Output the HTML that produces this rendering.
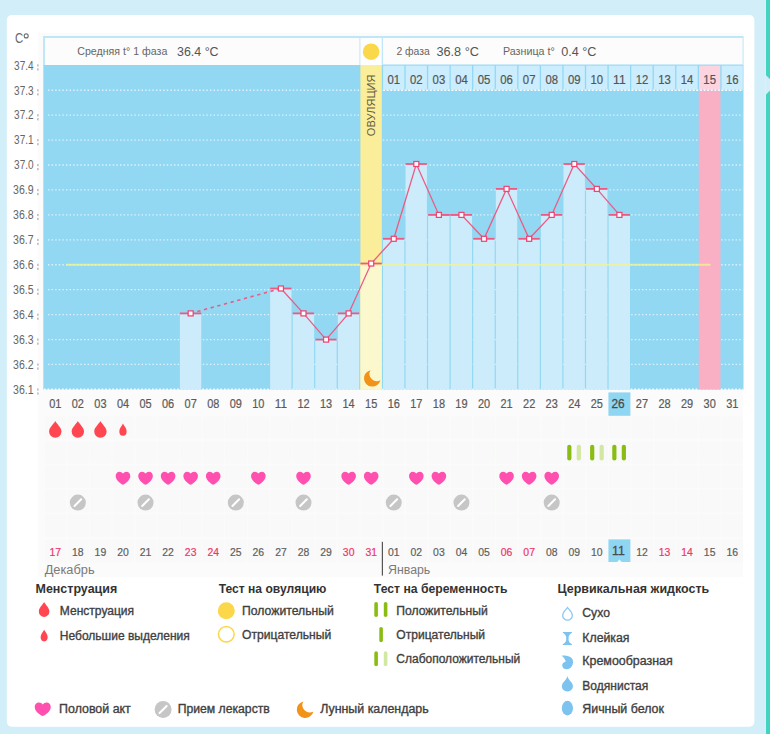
<!DOCTYPE html>
<html><head><meta charset="utf-8"><style>
html,body{margin:0;padding:0;background:#fff;}
svg{display:block;font-family:"Liberation Sans", sans-serif;}
</style></head><body>
<svg width="770" height="737" viewBox="0 0 770 737">
<rect x="0" y="0" width="770" height="734" fill="#d1eef9"/>
<path d="M766,0 H770 V79.3 L766,75.3 Z M766,94.6 L770,90.5 V734 H766 Z" fill="#42d4be"/>
<rect x="764.6" y="0" width="1.4" height="734" fill="#d9f0fa"/>
<rect x="6.8" y="15" width="747.6" height="711.7" rx="5" fill="#ffffff"/>
<rect x="38" y="33.2" width="705" height="543.8" fill="#fafbfa"/>
<rect x="43" y="36" width="700.6" height="29.2" fill="#bfe7f7"/>
<rect x="45" y="38" width="314.4" height="27" fill="#fbfcfb"/>
<rect x="360.4" y="38" width="21.3" height="27" fill="#fdfefd"/>
<rect x="383" y="38" width="359.6" height="26.2" fill="#fbfcfb"/>
<rect x="43.3" y="65" width="700.2" height="324.6" fill="#92d8f2"/>
<line x1="48" y1="90.23" x2="743" y2="90.23" stroke="#ffffff" stroke-opacity="0.7" stroke-width="1.3" stroke-dasharray="1.4 2.2"/>
<line x1="48" y1="115.16" x2="743" y2="115.16" stroke="#ffffff" stroke-opacity="0.7" stroke-width="1.3" stroke-dasharray="1.4 2.2"/>
<line x1="48" y1="140.09" x2="743" y2="140.09" stroke="#ffffff" stroke-opacity="0.7" stroke-width="1.3" stroke-dasharray="1.4 2.2"/>
<line x1="48" y1="165.02" x2="743" y2="165.02" stroke="#ffffff" stroke-opacity="0.7" stroke-width="1.3" stroke-dasharray="1.4 2.2"/>
<line x1="48" y1="189.95" x2="743" y2="189.95" stroke="#ffffff" stroke-opacity="0.7" stroke-width="1.3" stroke-dasharray="1.4 2.2"/>
<line x1="48" y1="214.88" x2="743" y2="214.88" stroke="#ffffff" stroke-opacity="0.7" stroke-width="1.3" stroke-dasharray="1.4 2.2"/>
<line x1="48" y1="239.81" x2="743" y2="239.81" stroke="#ffffff" stroke-opacity="0.7" stroke-width="1.3" stroke-dasharray="1.4 2.2"/>
<line x1="48" y1="264.74" x2="743" y2="264.74" stroke="#ffffff" stroke-opacity="0.7" stroke-width="1.3" stroke-dasharray="1.4 2.2"/>
<line x1="48" y1="289.67" x2="743" y2="289.67" stroke="#ffffff" stroke-opacity="0.7" stroke-width="1.3" stroke-dasharray="1.4 2.2"/>
<line x1="48" y1="314.60" x2="743" y2="314.60" stroke="#ffffff" stroke-opacity="0.7" stroke-width="1.3" stroke-dasharray="1.4 2.2"/>
<line x1="48" y1="339.53" x2="743" y2="339.53" stroke="#ffffff" stroke-opacity="0.7" stroke-width="1.3" stroke-dasharray="1.4 2.2"/>
<line x1="48" y1="364.46" x2="743" y2="364.46" stroke="#ffffff" stroke-opacity="0.7" stroke-width="1.3" stroke-dasharray="1.4 2.2"/>
<line x1="44" y1="389.30" x2="743" y2="389.30" stroke="#ffffff" stroke-opacity="0.9" stroke-width="1.4" stroke-dasharray="1.6 2"/>
<rect x="383.08" y="65.6" width="21.27" height="24.03" fill="#cbedfd"/>
<rect x="405.64" y="65.6" width="21.27" height="24.03" fill="#cbedfd"/>
<rect x="428.21" y="65.6" width="21.27" height="24.03" fill="#cbedfd"/>
<rect x="450.77" y="65.6" width="21.27" height="24.03" fill="#cbedfd"/>
<rect x="473.34" y="65.6" width="21.27" height="24.03" fill="#cbedfd"/>
<rect x="495.90" y="65.6" width="21.27" height="24.03" fill="#cbedfd"/>
<rect x="518.47" y="65.6" width="21.27" height="24.03" fill="#cbedfd"/>
<rect x="541.03" y="65.6" width="21.27" height="24.03" fill="#cbedfd"/>
<rect x="563.60" y="65.6" width="21.27" height="24.03" fill="#cbedfd"/>
<rect x="586.16" y="65.6" width="21.27" height="24.03" fill="#cbedfd"/>
<rect x="608.73" y="65.6" width="21.27" height="24.03" fill="#cbedfd"/>
<rect x="631.29" y="65.6" width="21.27" height="24.03" fill="#cbedfd"/>
<rect x="653.86" y="65.6" width="21.27" height="24.03" fill="#cbedfd"/>
<rect x="676.42" y="65.6" width="21.27" height="24.03" fill="#cbedfd"/>
<rect x="698.99" y="65.6" width="21.27" height="24.03" fill="#fbd4e0"/>
<rect x="721.55" y="65.6" width="21.27" height="24.03" fill="#cbedfd"/>
<rect x="698.78" y="90.43" width="21.67" height="299.17" fill="#fab0c4"/>
<line x1="383.48" y1="90.23" x2="743" y2="90.23" stroke="#ffffff" stroke-opacity="0.9" stroke-width="1.4" stroke-dasharray="1.6 2"/>
<rect x="360.41" y="65" width="21.37" height="324.6" fill="#fbee9a"/>
<rect x="179.89" y="313.40" width="21.37" height="76.20" fill="#ccecfc"/>
<rect x="270.15" y="288.50" width="21.37" height="101.10" fill="#ccecfc"/>
<rect x="292.72" y="313.40" width="21.37" height="76.20" fill="#ccecfc"/>
<rect x="315.28" y="339.60" width="21.37" height="50.00" fill="#ccecfc"/>
<rect x="337.85" y="313.40" width="21.37" height="76.20" fill="#ccecfc"/>
<rect x="360.41" y="263.50" width="21.37" height="126.10" fill="#fcf8cd"/>
<rect x="382.98" y="238.80" width="21.37" height="150.80" fill="#ccecfc"/>
<rect x="405.54" y="164.00" width="21.37" height="225.60" fill="#ccecfc"/>
<rect x="428.11" y="214.90" width="21.37" height="174.70" fill="#ccecfc"/>
<rect x="450.67" y="214.90" width="21.37" height="174.70" fill="#ccecfc"/>
<rect x="473.24" y="238.80" width="21.37" height="150.80" fill="#ccecfc"/>
<rect x="495.80" y="188.90" width="21.37" height="200.70" fill="#ccecfc"/>
<rect x="518.37" y="238.80" width="21.37" height="150.80" fill="#ccecfc"/>
<rect x="540.93" y="214.90" width="21.37" height="174.70" fill="#ccecfc"/>
<rect x="563.50" y="164.00" width="21.37" height="225.60" fill="#ccecfc"/>
<rect x="586.06" y="188.90" width="21.37" height="200.70" fill="#ccecfc"/>
<rect x="608.62" y="214.90" width="21.37" height="174.70" fill="#ccecfc"/>
<text x="0" y="0" font-size="11" fill="#625b45" text-anchor="middle" textLength="61.7" lengthAdjust="spacingAndGlyphs" transform="translate(374.6,105.3) rotate(-90)">ОВУЛЯЦИЯ</text>
<line x1="66" y1="264.74" x2="710.5" y2="264.74" stroke="#f2f490" stroke-opacity="0.78" stroke-width="2"/>
<line x1="179.89" y1="313.40" x2="201.26" y2="313.40" stroke="#ec5a82" stroke-width="1.8"/>
<line x1="270.15" y1="288.50" x2="291.51" y2="288.50" stroke="#ec5a82" stroke-width="1.8"/>
<line x1="292.72" y1="313.40" x2="314.08" y2="313.40" stroke="#ec5a82" stroke-width="1.8"/>
<line x1="315.28" y1="339.60" x2="336.65" y2="339.60" stroke="#ec5a82" stroke-width="1.8"/>
<line x1="337.85" y1="313.40" x2="359.21" y2="313.40" stroke="#ec5a82" stroke-width="1.8"/>
<line x1="360.41" y1="263.50" x2="381.78" y2="263.50" stroke="#ec5a82" stroke-width="1.8"/>
<line x1="382.98" y1="238.80" x2="404.34" y2="238.80" stroke="#ec5a82" stroke-width="1.8"/>
<line x1="405.54" y1="164.00" x2="426.91" y2="164.00" stroke="#ec5a82" stroke-width="1.8"/>
<line x1="428.11" y1="214.90" x2="449.47" y2="214.90" stroke="#ec5a82" stroke-width="1.8"/>
<line x1="450.67" y1="214.90" x2="472.04" y2="214.90" stroke="#ec5a82" stroke-width="1.8"/>
<line x1="473.24" y1="238.80" x2="494.60" y2="238.80" stroke="#ec5a82" stroke-width="1.8"/>
<line x1="495.80" y1="188.90" x2="517.16" y2="188.90" stroke="#ec5a82" stroke-width="1.8"/>
<line x1="518.37" y1="238.80" x2="539.73" y2="238.80" stroke="#ec5a82" stroke-width="1.8"/>
<line x1="540.93" y1="214.90" x2="562.30" y2="214.90" stroke="#ec5a82" stroke-width="1.8"/>
<line x1="563.50" y1="164.00" x2="584.86" y2="164.00" stroke="#ec5a82" stroke-width="1.8"/>
<line x1="586.06" y1="188.90" x2="607.43" y2="188.90" stroke="#ec5a82" stroke-width="1.8"/>
<line x1="608.62" y1="214.90" x2="629.99" y2="214.90" stroke="#ec5a82" stroke-width="1.8"/>
<line x1="190.67" y1="313.40" x2="280.93" y2="288.50" stroke="#ea5c84" stroke-width="1.6" stroke-dasharray="3.3 3.6"/>
<polyline points="280.93,288.50 303.50,313.40 326.06,339.60 348.63,313.40 371.19,263.50 393.76,238.80 416.32,164.00 438.89,214.90 461.45,214.90 484.02,238.80 506.58,188.90 529.15,238.80 551.71,214.90 574.28,164.00 596.84,188.90 619.41,214.90" fill="none" stroke="#ea5c84" stroke-width="1.3"/>
<rect x="188.17" y="310.90" width="5.0" height="5.0" fill="#fff" stroke="#ee4572" stroke-width="1.25"/>
<rect x="278.43" y="286.00" width="5.0" height="5.0" fill="#fff" stroke="#ee4572" stroke-width="1.25"/>
<rect x="301.00" y="310.90" width="5.0" height="5.0" fill="#fff" stroke="#ee4572" stroke-width="1.25"/>
<rect x="323.56" y="337.10" width="5.0" height="5.0" fill="#fff" stroke="#ee4572" stroke-width="1.25"/>
<rect x="346.13" y="310.90" width="5.0" height="5.0" fill="#fff" stroke="#ee4572" stroke-width="1.25"/>
<rect x="368.69" y="261.00" width="5.0" height="5.0" fill="#fff" stroke="#ee4572" stroke-width="1.25"/>
<rect x="391.26" y="236.30" width="5.0" height="5.0" fill="#fff" stroke="#ee4572" stroke-width="1.25"/>
<rect x="413.82" y="161.50" width="5.0" height="5.0" fill="#fff" stroke="#ee4572" stroke-width="1.25"/>
<rect x="436.39" y="212.40" width="5.0" height="5.0" fill="#fff" stroke="#ee4572" stroke-width="1.25"/>
<rect x="458.95" y="212.40" width="5.0" height="5.0" fill="#fff" stroke="#ee4572" stroke-width="1.25"/>
<rect x="481.52" y="236.30" width="5.0" height="5.0" fill="#fff" stroke="#ee4572" stroke-width="1.25"/>
<rect x="504.08" y="186.40" width="5.0" height="5.0" fill="#fff" stroke="#ee4572" stroke-width="1.25"/>
<rect x="526.65" y="236.30" width="5.0" height="5.0" fill="#fff" stroke="#ee4572" stroke-width="1.25"/>
<rect x="549.21" y="212.40" width="5.0" height="5.0" fill="#fff" stroke="#ee4572" stroke-width="1.25"/>
<rect x="571.78" y="161.50" width="5.0" height="5.0" fill="#fff" stroke="#ee4572" stroke-width="1.25"/>
<rect x="594.34" y="186.40" width="5.0" height="5.0" fill="#fff" stroke="#ee4572" stroke-width="1.25"/>
<rect x="616.91" y="212.40" width="5.0" height="5.0" fill="#fff" stroke="#ee4572" stroke-width="1.25"/>
<path d="M380.40,380.13 A8.30,8.30 0 1 1 370.47,370.20 A7.30,7.30 0 0 0 380.40,380.13 Z" fill="#f39219"/>
<text x="14.90" y="43.26" font-size="14" fill="#6a6a6a" font-weight="400" text-anchor="start" textLength="8.2" lengthAdjust="spacingAndGlyphs">C</text>
<circle cx="26.2" cy="35.9" r="2.0" fill="none" stroke="#707070" stroke-width="1.1"/>
<text x="33.60" y="69.58" font-size="12" fill="#666" font-weight="400" text-anchor="end" textLength="19.5" lengthAdjust="spacingAndGlyphs">37.4</text>
<rect x="37.4" y="64.30" width="1" height="2.2" fill="#9a9a9a"/><rect x="37.4" y="68.30" width="1" height="2.2" fill="#9a9a9a"/>
<text x="33.60" y="94.51" font-size="12" fill="#666" font-weight="400" text-anchor="end" textLength="19.5" lengthAdjust="spacingAndGlyphs">37.3</text>
<rect x="37.4" y="89.23" width="1" height="2.2" fill="#9a9a9a"/><rect x="37.4" y="93.23" width="1" height="2.2" fill="#9a9a9a"/>
<text x="33.60" y="119.44" font-size="12" fill="#666" font-weight="400" text-anchor="end" textLength="19.5" lengthAdjust="spacingAndGlyphs">37.2</text>
<rect x="37.4" y="114.16" width="1" height="2.2" fill="#9a9a9a"/><rect x="37.4" y="118.16" width="1" height="2.2" fill="#9a9a9a"/>
<text x="33.60" y="144.37" font-size="12" fill="#666" font-weight="400" text-anchor="end" textLength="19.5" lengthAdjust="spacingAndGlyphs">37.1</text>
<rect x="37.4" y="139.09" width="1" height="2.2" fill="#9a9a9a"/><rect x="37.4" y="143.09" width="1" height="2.2" fill="#9a9a9a"/>
<text x="33.60" y="169.30" font-size="12" fill="#666" font-weight="400" text-anchor="end" textLength="19.5" lengthAdjust="spacingAndGlyphs">37.0</text>
<rect x="37.4" y="164.02" width="1" height="2.2" fill="#9a9a9a"/><rect x="37.4" y="168.02" width="1" height="2.2" fill="#9a9a9a"/>
<text x="33.60" y="194.23" font-size="12" fill="#666" font-weight="400" text-anchor="end" textLength="20.5" lengthAdjust="spacingAndGlyphs">36.9</text>
<rect x="37.4" y="188.95" width="1" height="2.2" fill="#9a9a9a"/><rect x="37.4" y="192.95" width="1" height="2.2" fill="#9a9a9a"/>
<text x="33.60" y="219.16" font-size="12" fill="#666" font-weight="400" text-anchor="end" textLength="20.5" lengthAdjust="spacingAndGlyphs">36.8</text>
<rect x="37.4" y="213.88" width="1" height="2.2" fill="#9a9a9a"/><rect x="37.4" y="217.88" width="1" height="2.2" fill="#9a9a9a"/>
<text x="33.60" y="244.09" font-size="12" fill="#666" font-weight="400" text-anchor="end" textLength="20.5" lengthAdjust="spacingAndGlyphs">36.7</text>
<rect x="37.4" y="238.81" width="1" height="2.2" fill="#9a9a9a"/><rect x="37.4" y="242.81" width="1" height="2.2" fill="#9a9a9a"/>
<text x="33.60" y="269.02" font-size="12" fill="#666" font-weight="400" text-anchor="end" textLength="20.5" lengthAdjust="spacingAndGlyphs">36.6</text>
<rect x="37.4" y="263.74" width="1" height="2.2" fill="#9a9a9a"/><rect x="37.4" y="267.74" width="1" height="2.2" fill="#9a9a9a"/>
<text x="33.60" y="293.95" font-size="12" fill="#666" font-weight="400" text-anchor="end" textLength="20.5" lengthAdjust="spacingAndGlyphs">36.5</text>
<rect x="37.4" y="288.67" width="1" height="2.2" fill="#9a9a9a"/><rect x="37.4" y="292.67" width="1" height="2.2" fill="#9a9a9a"/>
<text x="33.60" y="318.88" font-size="12" fill="#666" font-weight="400" text-anchor="end" textLength="20.5" lengthAdjust="spacingAndGlyphs">36.4</text>
<rect x="37.4" y="313.60" width="1" height="2.2" fill="#9a9a9a"/><rect x="37.4" y="317.60" width="1" height="2.2" fill="#9a9a9a"/>
<text x="33.60" y="343.81" font-size="12" fill="#666" font-weight="400" text-anchor="end" textLength="20.5" lengthAdjust="spacingAndGlyphs">36.3</text>
<rect x="37.4" y="338.53" width="1" height="2.2" fill="#9a9a9a"/><rect x="37.4" y="342.53" width="1" height="2.2" fill="#9a9a9a"/>
<text x="33.60" y="368.74" font-size="12" fill="#666" font-weight="400" text-anchor="end" textLength="20.5" lengthAdjust="spacingAndGlyphs">36.2</text>
<rect x="37.4" y="363.46" width="1" height="2.2" fill="#9a9a9a"/><rect x="37.4" y="367.46" width="1" height="2.2" fill="#9a9a9a"/>
<text x="33.60" y="393.67" font-size="12" fill="#666" font-weight="400" text-anchor="end" textLength="20.5" lengthAdjust="spacingAndGlyphs">36.1</text>
<rect x="37.4" y="388.39" width="1" height="2.2" fill="#9a9a9a"/><rect x="37.4" y="392.39" width="1" height="2.2" fill="#9a9a9a"/>
<text x="77.30" y="55.40" font-size="11.6" fill="#666" font-weight="400" text-anchor="start" textLength="90.0" lengthAdjust="spacingAndGlyphs">Средняя t° 1 фаза</text>
<text x="177.00" y="55.77" font-size="13" fill="#555" font-weight="400" text-anchor="start" textLength="41.6" lengthAdjust="spacingAndGlyphs">36.4 °C</text>
<circle cx="371.1" cy="51.7" r="8.3" fill="#fbd84a"/>
<text x="396.40" y="55.40" font-size="11.6" fill="#666" font-weight="400" text-anchor="start" textLength="33.4" lengthAdjust="spacingAndGlyphs">2 фаза</text>
<text x="436.40" y="55.77" font-size="13" fill="#555" font-weight="400" text-anchor="start" textLength="42.6" lengthAdjust="spacingAndGlyphs">36.8 °C</text>
<text x="503.00" y="55.40" font-size="11.6" fill="#666" font-weight="400" text-anchor="start" textLength="51.7" lengthAdjust="spacingAndGlyphs">Разница t°</text>
<text x="561.20" y="55.77" font-size="13" fill="#555" font-weight="400" text-anchor="start" textLength="35.3" lengthAdjust="spacingAndGlyphs">0.4 °C</text>
<text x="393.76" y="83.92" font-size="12.5" fill="#555" font-weight="400" text-anchor="middle" textLength="12.6" lengthAdjust="spacingAndGlyphs" stroke="#555" stroke-width="0.2">01</text>
<text x="416.32" y="83.92" font-size="12.5" fill="#555" font-weight="400" text-anchor="middle" textLength="12.6" lengthAdjust="spacingAndGlyphs" stroke="#555" stroke-width="0.2">02</text>
<text x="438.89" y="83.92" font-size="12.5" fill="#555" font-weight="400" text-anchor="middle" textLength="12.6" lengthAdjust="spacingAndGlyphs" stroke="#555" stroke-width="0.2">03</text>
<text x="461.45" y="83.92" font-size="12.5" fill="#555" font-weight="400" text-anchor="middle" textLength="12.6" lengthAdjust="spacingAndGlyphs" stroke="#555" stroke-width="0.2">04</text>
<text x="484.02" y="83.92" font-size="12.5" fill="#555" font-weight="400" text-anchor="middle" textLength="12.6" lengthAdjust="spacingAndGlyphs" stroke="#555" stroke-width="0.2">05</text>
<text x="506.58" y="83.92" font-size="12.5" fill="#555" font-weight="400" text-anchor="middle" textLength="12.6" lengthAdjust="spacingAndGlyphs" stroke="#555" stroke-width="0.2">06</text>
<text x="529.15" y="83.92" font-size="12.5" fill="#555" font-weight="400" text-anchor="middle" textLength="12.6" lengthAdjust="spacingAndGlyphs" stroke="#555" stroke-width="0.2">07</text>
<text x="551.71" y="83.92" font-size="12.5" fill="#555" font-weight="400" text-anchor="middle" textLength="12.6" lengthAdjust="spacingAndGlyphs" stroke="#555" stroke-width="0.2">08</text>
<text x="574.28" y="83.92" font-size="12.5" fill="#555" font-weight="400" text-anchor="middle" textLength="12.6" lengthAdjust="spacingAndGlyphs" stroke="#555" stroke-width="0.2">09</text>
<text x="596.84" y="83.92" font-size="12.5" fill="#555" font-weight="400" text-anchor="middle" textLength="12.6" lengthAdjust="spacingAndGlyphs" stroke="#555" stroke-width="0.2">10</text>
<text x="619.41" y="83.92" font-size="12.5" fill="#555" font-weight="400" text-anchor="middle" textLength="12.6" lengthAdjust="spacingAndGlyphs" stroke="#555" stroke-width="0.2">11</text>
<text x="641.97" y="83.92" font-size="12.5" fill="#555" font-weight="400" text-anchor="middle" textLength="12.6" lengthAdjust="spacingAndGlyphs" stroke="#555" stroke-width="0.2">12</text>
<text x="664.54" y="83.92" font-size="12.5" fill="#555" font-weight="400" text-anchor="middle" textLength="12.6" lengthAdjust="spacingAndGlyphs" stroke="#555" stroke-width="0.2">13</text>
<text x="687.10" y="83.92" font-size="12.5" fill="#555" font-weight="400" text-anchor="middle" textLength="12.6" lengthAdjust="spacingAndGlyphs" stroke="#555" stroke-width="0.2">14</text>
<text x="709.67" y="83.92" font-size="12.5" fill="#555" font-weight="400" text-anchor="middle" textLength="12.6" lengthAdjust="spacingAndGlyphs" stroke="#555" stroke-width="0.2">15</text>
<text x="732.23" y="83.92" font-size="12.5" fill="#555" font-weight="400" text-anchor="middle" textLength="12.6" lengthAdjust="spacingAndGlyphs" stroke="#555" stroke-width="0.2">16</text>
<rect x="608.42" y="392.4" width="21.96" height="23.4" fill="#8fd6f2"/>
<text x="55.28" y="407.88" font-size="12" fill="#5a5a5a" font-weight="400" text-anchor="middle" textLength="12.2" lengthAdjust="spacingAndGlyphs" stroke="#5a5a5a" stroke-width="0.2">01</text>
<text x="77.85" y="407.88" font-size="12" fill="#5a5a5a" font-weight="400" text-anchor="middle" textLength="12.2" lengthAdjust="spacingAndGlyphs" stroke="#5a5a5a" stroke-width="0.2">02</text>
<text x="100.41" y="407.88" font-size="12" fill="#5a5a5a" font-weight="400" text-anchor="middle" textLength="12.2" lengthAdjust="spacingAndGlyphs" stroke="#5a5a5a" stroke-width="0.2">03</text>
<text x="122.98" y="407.88" font-size="12" fill="#5a5a5a" font-weight="400" text-anchor="middle" textLength="12.2" lengthAdjust="spacingAndGlyphs" stroke="#5a5a5a" stroke-width="0.2">04</text>
<text x="145.54" y="407.88" font-size="12" fill="#5a5a5a" font-weight="400" text-anchor="middle" textLength="12.2" lengthAdjust="spacingAndGlyphs" stroke="#5a5a5a" stroke-width="0.2">05</text>
<text x="168.11" y="407.88" font-size="12" fill="#5a5a5a" font-weight="400" text-anchor="middle" textLength="12.2" lengthAdjust="spacingAndGlyphs" stroke="#5a5a5a" stroke-width="0.2">06</text>
<text x="190.67" y="407.88" font-size="12" fill="#5a5a5a" font-weight="400" text-anchor="middle" textLength="12.2" lengthAdjust="spacingAndGlyphs" stroke="#5a5a5a" stroke-width="0.2">07</text>
<text x="213.24" y="407.88" font-size="12" fill="#5a5a5a" font-weight="400" text-anchor="middle" textLength="12.2" lengthAdjust="spacingAndGlyphs" stroke="#5a5a5a" stroke-width="0.2">08</text>
<text x="235.80" y="407.88" font-size="12" fill="#5a5a5a" font-weight="400" text-anchor="middle" textLength="12.2" lengthAdjust="spacingAndGlyphs" stroke="#5a5a5a" stroke-width="0.2">09</text>
<text x="258.37" y="407.88" font-size="12" fill="#5a5a5a" font-weight="400" text-anchor="middle" textLength="12.2" lengthAdjust="spacingAndGlyphs" stroke="#5a5a5a" stroke-width="0.2">10</text>
<text x="280.93" y="407.88" font-size="12" fill="#5a5a5a" font-weight="400" text-anchor="middle" textLength="12.2" lengthAdjust="spacingAndGlyphs" stroke="#5a5a5a" stroke-width="0.2">11</text>
<text x="303.50" y="407.88" font-size="12" fill="#5a5a5a" font-weight="400" text-anchor="middle" textLength="12.2" lengthAdjust="spacingAndGlyphs" stroke="#5a5a5a" stroke-width="0.2">12</text>
<text x="326.06" y="407.88" font-size="12" fill="#5a5a5a" font-weight="400" text-anchor="middle" textLength="12.2" lengthAdjust="spacingAndGlyphs" stroke="#5a5a5a" stroke-width="0.2">13</text>
<text x="348.63" y="407.88" font-size="12" fill="#5a5a5a" font-weight="400" text-anchor="middle" textLength="12.2" lengthAdjust="spacingAndGlyphs" stroke="#5a5a5a" stroke-width="0.2">14</text>
<text x="371.19" y="407.88" font-size="12" fill="#5a5a5a" font-weight="400" text-anchor="middle" textLength="12.2" lengthAdjust="spacingAndGlyphs" stroke="#5a5a5a" stroke-width="0.2">15</text>
<text x="393.76" y="407.88" font-size="12" fill="#5a5a5a" font-weight="400" text-anchor="middle" textLength="12.2" lengthAdjust="spacingAndGlyphs" stroke="#5a5a5a" stroke-width="0.2">16</text>
<text x="416.32" y="407.88" font-size="12" fill="#5a5a5a" font-weight="400" text-anchor="middle" textLength="12.2" lengthAdjust="spacingAndGlyphs" stroke="#5a5a5a" stroke-width="0.2">17</text>
<text x="438.89" y="407.88" font-size="12" fill="#5a5a5a" font-weight="400" text-anchor="middle" textLength="12.2" lengthAdjust="spacingAndGlyphs" stroke="#5a5a5a" stroke-width="0.2">18</text>
<text x="461.45" y="407.88" font-size="12" fill="#5a5a5a" font-weight="400" text-anchor="middle" textLength="12.2" lengthAdjust="spacingAndGlyphs" stroke="#5a5a5a" stroke-width="0.2">19</text>
<text x="484.02" y="407.88" font-size="12" fill="#5a5a5a" font-weight="400" text-anchor="middle" textLength="12.2" lengthAdjust="spacingAndGlyphs" stroke="#5a5a5a" stroke-width="0.2">20</text>
<text x="506.58" y="407.88" font-size="12" fill="#5a5a5a" font-weight="400" text-anchor="middle" textLength="12.2" lengthAdjust="spacingAndGlyphs" stroke="#5a5a5a" stroke-width="0.2">21</text>
<text x="529.15" y="407.88" font-size="12" fill="#5a5a5a" font-weight="400" text-anchor="middle" textLength="12.2" lengthAdjust="spacingAndGlyphs" stroke="#5a5a5a" stroke-width="0.2">22</text>
<text x="551.71" y="407.88" font-size="12" fill="#5a5a5a" font-weight="400" text-anchor="middle" textLength="12.2" lengthAdjust="spacingAndGlyphs" stroke="#5a5a5a" stroke-width="0.2">23</text>
<text x="574.28" y="407.88" font-size="12" fill="#5a5a5a" font-weight="400" text-anchor="middle" textLength="12.2" lengthAdjust="spacingAndGlyphs" stroke="#5a5a5a" stroke-width="0.2">24</text>
<text x="596.84" y="407.88" font-size="12" fill="#5a5a5a" font-weight="400" text-anchor="middle" textLength="12.2" lengthAdjust="spacingAndGlyphs" stroke="#5a5a5a" stroke-width="0.2">25</text>
<text x="618.11" y="408.37" font-size="13" fill="#4a4a4a" font-weight="400" text-anchor="middle" textLength="13.2" lengthAdjust="spacingAndGlyphs" stroke="#4a4a4a" stroke-width="0.3">26</text>
<text x="641.97" y="407.88" font-size="12" fill="#5a5a5a" font-weight="400" text-anchor="middle" textLength="12.2" lengthAdjust="spacingAndGlyphs" stroke="#5a5a5a" stroke-width="0.2">27</text>
<text x="664.54" y="407.88" font-size="12" fill="#5a5a5a" font-weight="400" text-anchor="middle" textLength="12.2" lengthAdjust="spacingAndGlyphs" stroke="#5a5a5a" stroke-width="0.2">28</text>
<text x="687.10" y="407.88" font-size="12" fill="#5a5a5a" font-weight="400" text-anchor="middle" textLength="12.2" lengthAdjust="spacingAndGlyphs" stroke="#5a5a5a" stroke-width="0.2">29</text>
<text x="709.67" y="407.88" font-size="12" fill="#5a5a5a" font-weight="400" text-anchor="middle" textLength="12.2" lengthAdjust="spacingAndGlyphs" stroke="#5a5a5a" stroke-width="0.2">30</text>
<text x="732.23" y="407.88" font-size="12" fill="#5a5a5a" font-weight="400" text-anchor="middle" textLength="12.2" lengthAdjust="spacingAndGlyphs" stroke="#5a5a5a" stroke-width="0.2">31</text>
<rect x="44.90" y="416.50" width="21.17" height="22.20" fill="#f8f9f8"/>
<rect x="67.47" y="416.50" width="21.17" height="22.20" fill="#f8f9f8"/>
<rect x="90.03" y="416.50" width="21.17" height="22.20" fill="#f8f9f8"/>
<rect x="112.60" y="416.50" width="21.17" height="22.20" fill="#f8f9f8"/>
<rect x="135.16" y="416.50" width="21.17" height="22.20" fill="#f8f9f8"/>
<rect x="157.72" y="416.50" width="21.17" height="22.20" fill="#f8f9f8"/>
<rect x="180.29" y="416.50" width="21.17" height="22.20" fill="#f8f9f8"/>
<rect x="202.86" y="416.50" width="21.17" height="22.20" fill="#f8f9f8"/>
<rect x="225.42" y="416.50" width="21.17" height="22.20" fill="#f8f9f8"/>
<rect x="247.99" y="416.50" width="21.17" height="22.20" fill="#f8f9f8"/>
<rect x="270.55" y="416.50" width="21.17" height="22.20" fill="#f8f9f8"/>
<rect x="293.12" y="416.50" width="21.17" height="22.20" fill="#f8f9f8"/>
<rect x="315.68" y="416.50" width="21.17" height="22.20" fill="#f8f9f8"/>
<rect x="338.25" y="416.50" width="21.17" height="22.20" fill="#f8f9f8"/>
<rect x="360.81" y="416.50" width="21.17" height="22.20" fill="#f8f9f8"/>
<rect x="383.38" y="416.50" width="21.17" height="22.20" fill="#f8f9f8"/>
<rect x="405.94" y="416.50" width="21.17" height="22.20" fill="#f8f9f8"/>
<rect x="428.50" y="416.50" width="21.17" height="22.20" fill="#f8f9f8"/>
<rect x="451.07" y="416.50" width="21.17" height="22.20" fill="#f8f9f8"/>
<rect x="473.63" y="416.50" width="21.17" height="22.20" fill="#f8f9f8"/>
<rect x="496.20" y="416.50" width="21.17" height="22.20" fill="#f8f9f8"/>
<rect x="518.76" y="416.50" width="21.17" height="22.20" fill="#f8f9f8"/>
<rect x="541.33" y="416.50" width="21.17" height="22.20" fill="#f8f9f8"/>
<rect x="563.89" y="416.50" width="21.17" height="22.20" fill="#f8f9f8"/>
<rect x="586.46" y="416.50" width="21.17" height="22.20" fill="#f8f9f8"/>
<rect x="609.02" y="416.50" width="21.17" height="22.20" fill="#f8f9f8"/>
<rect x="631.59" y="416.50" width="21.17" height="22.20" fill="#f8f9f8"/>
<rect x="654.15" y="416.50" width="21.17" height="22.20" fill="#f8f9f8"/>
<rect x="676.72" y="416.50" width="21.17" height="22.20" fill="#f8f9f8"/>
<rect x="699.28" y="416.50" width="21.17" height="22.20" fill="#f8f9f8"/>
<rect x="721.85" y="416.50" width="21.17" height="22.20" fill="#f8f9f8"/>
<rect x="44.90" y="441.30" width="21.17" height="22.40" fill="#f8f9f8"/>
<rect x="67.47" y="441.30" width="21.17" height="22.40" fill="#f8f9f8"/>
<rect x="90.03" y="441.30" width="21.17" height="22.40" fill="#f8f9f8"/>
<rect x="112.60" y="441.30" width="21.17" height="22.40" fill="#f8f9f8"/>
<rect x="135.16" y="441.30" width="21.17" height="22.40" fill="#f8f9f8"/>
<rect x="157.72" y="441.30" width="21.17" height="22.40" fill="#f8f9f8"/>
<rect x="180.29" y="441.30" width="21.17" height="22.40" fill="#f8f9f8"/>
<rect x="202.86" y="441.30" width="21.17" height="22.40" fill="#f8f9f8"/>
<rect x="225.42" y="441.30" width="21.17" height="22.40" fill="#f8f9f8"/>
<rect x="247.99" y="441.30" width="21.17" height="22.40" fill="#f8f9f8"/>
<rect x="270.55" y="441.30" width="21.17" height="22.40" fill="#f8f9f8"/>
<rect x="293.12" y="441.30" width="21.17" height="22.40" fill="#f8f9f8"/>
<rect x="315.68" y="441.30" width="21.17" height="22.40" fill="#f8f9f8"/>
<rect x="338.25" y="441.30" width="21.17" height="22.40" fill="#f8f9f8"/>
<rect x="360.81" y="441.30" width="21.17" height="22.40" fill="#f8f9f8"/>
<rect x="383.38" y="441.30" width="21.17" height="22.40" fill="#f8f9f8"/>
<rect x="405.94" y="441.30" width="21.17" height="22.40" fill="#f8f9f8"/>
<rect x="428.50" y="441.30" width="21.17" height="22.40" fill="#f8f9f8"/>
<rect x="451.07" y="441.30" width="21.17" height="22.40" fill="#f8f9f8"/>
<rect x="473.63" y="441.30" width="21.17" height="22.40" fill="#f8f9f8"/>
<rect x="496.20" y="441.30" width="21.17" height="22.40" fill="#f8f9f8"/>
<rect x="518.76" y="441.30" width="21.17" height="22.40" fill="#f8f9f8"/>
<rect x="541.33" y="441.30" width="21.17" height="22.40" fill="#f8f9f8"/>
<rect x="563.89" y="441.30" width="21.17" height="22.40" fill="#f8f9f8"/>
<rect x="586.46" y="441.30" width="21.17" height="22.40" fill="#f8f9f8"/>
<rect x="609.02" y="441.30" width="21.17" height="22.40" fill="#f8f9f8"/>
<rect x="631.59" y="441.30" width="21.17" height="22.40" fill="#f8f9f8"/>
<rect x="654.15" y="441.30" width="21.17" height="22.40" fill="#f8f9f8"/>
<rect x="676.72" y="441.30" width="21.17" height="22.40" fill="#f8f9f8"/>
<rect x="699.28" y="441.30" width="21.17" height="22.40" fill="#f8f9f8"/>
<rect x="721.85" y="441.30" width="21.17" height="22.40" fill="#f8f9f8"/>
<rect x="44.90" y="465.30" width="21.17" height="22.60" fill="#f8f9f8"/>
<rect x="67.47" y="465.30" width="21.17" height="22.60" fill="#f8f9f8"/>
<rect x="90.03" y="465.30" width="21.17" height="22.60" fill="#f8f9f8"/>
<rect x="112.60" y="465.30" width="21.17" height="22.60" fill="#f8f9f8"/>
<rect x="135.16" y="465.30" width="21.17" height="22.60" fill="#f8f9f8"/>
<rect x="157.72" y="465.30" width="21.17" height="22.60" fill="#f8f9f8"/>
<rect x="180.29" y="465.30" width="21.17" height="22.60" fill="#f8f9f8"/>
<rect x="202.86" y="465.30" width="21.17" height="22.60" fill="#f8f9f8"/>
<rect x="225.42" y="465.30" width="21.17" height="22.60" fill="#f8f9f8"/>
<rect x="247.99" y="465.30" width="21.17" height="22.60" fill="#f8f9f8"/>
<rect x="270.55" y="465.30" width="21.17" height="22.60" fill="#f8f9f8"/>
<rect x="293.12" y="465.30" width="21.17" height="22.60" fill="#f8f9f8"/>
<rect x="315.68" y="465.30" width="21.17" height="22.60" fill="#f8f9f8"/>
<rect x="338.25" y="465.30" width="21.17" height="22.60" fill="#f8f9f8"/>
<rect x="360.81" y="465.30" width="21.17" height="22.60" fill="#f8f9f8"/>
<rect x="383.38" y="465.30" width="21.17" height="22.60" fill="#f8f9f8"/>
<rect x="405.94" y="465.30" width="21.17" height="22.60" fill="#f8f9f8"/>
<rect x="428.50" y="465.30" width="21.17" height="22.60" fill="#f8f9f8"/>
<rect x="451.07" y="465.30" width="21.17" height="22.60" fill="#f8f9f8"/>
<rect x="473.63" y="465.30" width="21.17" height="22.60" fill="#f8f9f8"/>
<rect x="496.20" y="465.30" width="21.17" height="22.60" fill="#f8f9f8"/>
<rect x="518.76" y="465.30" width="21.17" height="22.60" fill="#f8f9f8"/>
<rect x="541.33" y="465.30" width="21.17" height="22.60" fill="#f8f9f8"/>
<rect x="563.89" y="465.30" width="21.17" height="22.60" fill="#f8f9f8"/>
<rect x="586.46" y="465.30" width="21.17" height="22.60" fill="#f8f9f8"/>
<rect x="609.02" y="465.30" width="21.17" height="22.60" fill="#f8f9f8"/>
<rect x="631.59" y="465.30" width="21.17" height="22.60" fill="#f8f9f8"/>
<rect x="654.15" y="465.30" width="21.17" height="22.60" fill="#f8f9f8"/>
<rect x="676.72" y="465.30" width="21.17" height="22.60" fill="#f8f9f8"/>
<rect x="699.28" y="465.30" width="21.17" height="22.60" fill="#f8f9f8"/>
<rect x="721.85" y="465.30" width="21.17" height="22.60" fill="#f8f9f8"/>
<rect x="44.90" y="489.80" width="21.17" height="22.60" fill="#f8f9f8"/>
<rect x="67.47" y="489.80" width="21.17" height="22.60" fill="#f8f9f8"/>
<rect x="90.03" y="489.80" width="21.17" height="22.60" fill="#f8f9f8"/>
<rect x="112.60" y="489.80" width="21.17" height="22.60" fill="#f8f9f8"/>
<rect x="135.16" y="489.80" width="21.17" height="22.60" fill="#f8f9f8"/>
<rect x="157.72" y="489.80" width="21.17" height="22.60" fill="#f8f9f8"/>
<rect x="180.29" y="489.80" width="21.17" height="22.60" fill="#f8f9f8"/>
<rect x="202.86" y="489.80" width="21.17" height="22.60" fill="#f8f9f8"/>
<rect x="225.42" y="489.80" width="21.17" height="22.60" fill="#f8f9f8"/>
<rect x="247.99" y="489.80" width="21.17" height="22.60" fill="#f8f9f8"/>
<rect x="270.55" y="489.80" width="21.17" height="22.60" fill="#f8f9f8"/>
<rect x="293.12" y="489.80" width="21.17" height="22.60" fill="#f8f9f8"/>
<rect x="315.68" y="489.80" width="21.17" height="22.60" fill="#f8f9f8"/>
<rect x="338.25" y="489.80" width="21.17" height="22.60" fill="#f8f9f8"/>
<rect x="360.81" y="489.80" width="21.17" height="22.60" fill="#f8f9f8"/>
<rect x="383.38" y="489.80" width="21.17" height="22.60" fill="#f8f9f8"/>
<rect x="405.94" y="489.80" width="21.17" height="22.60" fill="#f8f9f8"/>
<rect x="428.50" y="489.80" width="21.17" height="22.60" fill="#f8f9f8"/>
<rect x="451.07" y="489.80" width="21.17" height="22.60" fill="#f8f9f8"/>
<rect x="473.63" y="489.80" width="21.17" height="22.60" fill="#f8f9f8"/>
<rect x="496.20" y="489.80" width="21.17" height="22.60" fill="#f8f9f8"/>
<rect x="518.76" y="489.80" width="21.17" height="22.60" fill="#f8f9f8"/>
<rect x="541.33" y="489.80" width="21.17" height="22.60" fill="#f8f9f8"/>
<rect x="563.89" y="489.80" width="21.17" height="22.60" fill="#f8f9f8"/>
<rect x="586.46" y="489.80" width="21.17" height="22.60" fill="#f8f9f8"/>
<rect x="609.02" y="489.80" width="21.17" height="22.60" fill="#f8f9f8"/>
<rect x="631.59" y="489.80" width="21.17" height="22.60" fill="#f8f9f8"/>
<rect x="654.15" y="489.80" width="21.17" height="22.60" fill="#f8f9f8"/>
<rect x="676.72" y="489.80" width="21.17" height="22.60" fill="#f8f9f8"/>
<rect x="699.28" y="489.80" width="21.17" height="22.60" fill="#f8f9f8"/>
<rect x="721.85" y="489.80" width="21.17" height="22.60" fill="#f8f9f8"/>
<rect x="44.90" y="514.20" width="21.17" height="22.80" fill="#f8f9f8"/>
<rect x="67.47" y="514.20" width="21.17" height="22.80" fill="#f8f9f8"/>
<rect x="90.03" y="514.20" width="21.17" height="22.80" fill="#f8f9f8"/>
<rect x="112.60" y="514.20" width="21.17" height="22.80" fill="#f8f9f8"/>
<rect x="135.16" y="514.20" width="21.17" height="22.80" fill="#f8f9f8"/>
<rect x="157.72" y="514.20" width="21.17" height="22.80" fill="#f8f9f8"/>
<rect x="180.29" y="514.20" width="21.17" height="22.80" fill="#f8f9f8"/>
<rect x="202.86" y="514.20" width="21.17" height="22.80" fill="#f8f9f8"/>
<rect x="225.42" y="514.20" width="21.17" height="22.80" fill="#f8f9f8"/>
<rect x="247.99" y="514.20" width="21.17" height="22.80" fill="#f8f9f8"/>
<rect x="270.55" y="514.20" width="21.17" height="22.80" fill="#f8f9f8"/>
<rect x="293.12" y="514.20" width="21.17" height="22.80" fill="#f8f9f8"/>
<rect x="315.68" y="514.20" width="21.17" height="22.80" fill="#f8f9f8"/>
<rect x="338.25" y="514.20" width="21.17" height="22.80" fill="#f8f9f8"/>
<rect x="360.81" y="514.20" width="21.17" height="22.80" fill="#f8f9f8"/>
<rect x="383.38" y="514.20" width="21.17" height="22.80" fill="#f8f9f8"/>
<rect x="405.94" y="514.20" width="21.17" height="22.80" fill="#f8f9f8"/>
<rect x="428.50" y="514.20" width="21.17" height="22.80" fill="#f8f9f8"/>
<rect x="451.07" y="514.20" width="21.17" height="22.80" fill="#f8f9f8"/>
<rect x="473.63" y="514.20" width="21.17" height="22.80" fill="#f8f9f8"/>
<rect x="496.20" y="514.20" width="21.17" height="22.80" fill="#f8f9f8"/>
<rect x="518.76" y="514.20" width="21.17" height="22.80" fill="#f8f9f8"/>
<rect x="541.33" y="514.20" width="21.17" height="22.80" fill="#f8f9f8"/>
<rect x="563.89" y="514.20" width="21.17" height="22.80" fill="#f8f9f8"/>
<rect x="586.46" y="514.20" width="21.17" height="22.80" fill="#f8f9f8"/>
<rect x="609.02" y="514.20" width="21.17" height="22.80" fill="#f8f9f8"/>
<rect x="631.59" y="514.20" width="21.17" height="22.80" fill="#f8f9f8"/>
<rect x="654.15" y="514.20" width="21.17" height="22.80" fill="#f8f9f8"/>
<rect x="676.72" y="514.20" width="21.17" height="22.80" fill="#f8f9f8"/>
<rect x="699.28" y="514.20" width="21.17" height="22.80" fill="#f8f9f8"/>
<rect x="721.85" y="514.20" width="21.17" height="22.80" fill="#f8f9f8"/>
<rect x="44.90" y="539.60" width="21.17" height="22.80" fill="#f8f9f8"/>
<rect x="67.47" y="539.60" width="21.17" height="22.80" fill="#f8f9f8"/>
<rect x="90.03" y="539.60" width="21.17" height="22.80" fill="#f8f9f8"/>
<rect x="112.60" y="539.60" width="21.17" height="22.80" fill="#f8f9f8"/>
<rect x="135.16" y="539.60" width="21.17" height="22.80" fill="#f8f9f8"/>
<rect x="157.72" y="539.60" width="21.17" height="22.80" fill="#f8f9f8"/>
<rect x="180.29" y="539.60" width="21.17" height="22.80" fill="#f8f9f8"/>
<rect x="202.86" y="539.60" width="21.17" height="22.80" fill="#f8f9f8"/>
<rect x="225.42" y="539.60" width="21.17" height="22.80" fill="#f8f9f8"/>
<rect x="247.99" y="539.60" width="21.17" height="22.80" fill="#f8f9f8"/>
<rect x="270.55" y="539.60" width="21.17" height="22.80" fill="#f8f9f8"/>
<rect x="293.12" y="539.60" width="21.17" height="22.80" fill="#f8f9f8"/>
<rect x="315.68" y="539.60" width="21.17" height="22.80" fill="#f8f9f8"/>
<rect x="338.25" y="539.60" width="21.17" height="22.80" fill="#f8f9f8"/>
<rect x="360.81" y="539.60" width="21.17" height="22.80" fill="#f8f9f8"/>
<rect x="383.38" y="539.60" width="21.17" height="22.80" fill="#f8f9f8"/>
<rect x="405.94" y="539.60" width="21.17" height="22.80" fill="#f8f9f8"/>
<rect x="428.50" y="539.60" width="21.17" height="22.80" fill="#f8f9f8"/>
<rect x="451.07" y="539.60" width="21.17" height="22.80" fill="#f8f9f8"/>
<rect x="473.63" y="539.60" width="21.17" height="22.80" fill="#f8f9f8"/>
<rect x="496.20" y="539.60" width="21.17" height="22.80" fill="#f8f9f8"/>
<rect x="518.76" y="539.60" width="21.17" height="22.80" fill="#f8f9f8"/>
<rect x="541.33" y="539.60" width="21.17" height="22.80" fill="#f8f9f8"/>
<rect x="563.89" y="539.60" width="21.17" height="22.80" fill="#f8f9f8"/>
<rect x="586.46" y="539.60" width="21.17" height="22.80" fill="#f8f9f8"/>
<rect x="609.02" y="539.60" width="21.17" height="22.80" fill="#f8f9f8"/>
<rect x="631.59" y="539.60" width="21.17" height="22.80" fill="#f8f9f8"/>
<rect x="654.15" y="539.60" width="21.17" height="22.80" fill="#f8f9f8"/>
<rect x="676.72" y="539.60" width="21.17" height="22.80" fill="#f8f9f8"/>
<rect x="699.28" y="539.60" width="21.17" height="22.80" fill="#f8f9f8"/>
<rect x="721.85" y="539.60" width="21.17" height="22.80" fill="#f8f9f8"/>
<rect x="608.42" y="539.4" width="21.96" height="22.6" fill="#8fd6f2"/>
<path d="M617.21,562 L619.41,559.6 L621.61,562Z" fill="#f8faf8"/>
<path d="M0,-10.5 C1.5,-7.5 6.2,-4 6.2,0 A6.2,6.2 0 0 1 -6.2,0 C-6.2,-4 -1.5,-7.5 0,-10.5Z" fill="#ff4651" transform="translate(55.28,431.50) scale(1.000,1.000)"/>
<path d="M0,-10.5 C1.5,-7.5 6.2,-4 6.2,0 A6.2,6.2 0 0 1 -6.2,0 C-6.2,-4 -1.5,-7.5 0,-10.5Z" fill="#ff4651" transform="translate(77.85,431.50) scale(1.000,1.000)"/>
<path d="M0,-10.5 C1.5,-7.5 6.2,-4 6.2,0 A6.2,6.2 0 0 1 -6.2,0 C-6.2,-4 -1.5,-7.5 0,-10.5Z" fill="#ff4651" transform="translate(100.41,431.50) scale(1.000,1.000)"/>
<path d="M0,-10.5 C1.5,-7.5 6.2,-4 6.2,0 A6.2,6.2 0 0 1 -6.2,0 C-6.2,-4 -1.5,-7.5 0,-10.5Z" fill="#ff4651" transform="translate(122.98,431.20) scale(0.590,0.730)"/>
<path d="M0,6.5 C-1.2,6.3 -7.3,2.4 -7.3,-2.2 C-7.3,-4.9 -5.6,-6.5 -3.6,-6.5 C-2,-6.5 -0.8,-5.7 0,-4.6 C0.8,-5.7 2,-6.5 3.6,-6.5 C5.6,-6.5 7.3,-4.9 7.3,-2.2 C7.3,2.4 1.2,6.3 0,6.5Z" fill="#ff50b0" transform="translate(122.98,478.20) scale(1.0)"/>
<path d="M0,6.5 C-1.2,6.3 -7.3,2.4 -7.3,-2.2 C-7.3,-4.9 -5.6,-6.5 -3.6,-6.5 C-2,-6.5 -0.8,-5.7 0,-4.6 C0.8,-5.7 2,-6.5 3.6,-6.5 C5.6,-6.5 7.3,-4.9 7.3,-2.2 C7.3,2.4 1.2,6.3 0,6.5Z" fill="#ff50b0" transform="translate(145.54,478.20) scale(1.0)"/>
<path d="M0,6.5 C-1.2,6.3 -7.3,2.4 -7.3,-2.2 C-7.3,-4.9 -5.6,-6.5 -3.6,-6.5 C-2,-6.5 -0.8,-5.7 0,-4.6 C0.8,-5.7 2,-6.5 3.6,-6.5 C5.6,-6.5 7.3,-4.9 7.3,-2.2 C7.3,2.4 1.2,6.3 0,6.5Z" fill="#ff50b0" transform="translate(168.11,478.20) scale(1.0)"/>
<path d="M0,6.5 C-1.2,6.3 -7.3,2.4 -7.3,-2.2 C-7.3,-4.9 -5.6,-6.5 -3.6,-6.5 C-2,-6.5 -0.8,-5.7 0,-4.6 C0.8,-5.7 2,-6.5 3.6,-6.5 C5.6,-6.5 7.3,-4.9 7.3,-2.2 C7.3,2.4 1.2,6.3 0,6.5Z" fill="#ff50b0" transform="translate(190.67,478.20) scale(1.0)"/>
<path d="M0,6.5 C-1.2,6.3 -7.3,2.4 -7.3,-2.2 C-7.3,-4.9 -5.6,-6.5 -3.6,-6.5 C-2,-6.5 -0.8,-5.7 0,-4.6 C0.8,-5.7 2,-6.5 3.6,-6.5 C5.6,-6.5 7.3,-4.9 7.3,-2.2 C7.3,2.4 1.2,6.3 0,6.5Z" fill="#ff50b0" transform="translate(213.24,478.20) scale(1.0)"/>
<path d="M0,6.5 C-1.2,6.3 -7.3,2.4 -7.3,-2.2 C-7.3,-4.9 -5.6,-6.5 -3.6,-6.5 C-2,-6.5 -0.8,-5.7 0,-4.6 C0.8,-5.7 2,-6.5 3.6,-6.5 C5.6,-6.5 7.3,-4.9 7.3,-2.2 C7.3,2.4 1.2,6.3 0,6.5Z" fill="#ff50b0" transform="translate(258.37,478.20) scale(1.0)"/>
<path d="M0,6.5 C-1.2,6.3 -7.3,2.4 -7.3,-2.2 C-7.3,-4.9 -5.6,-6.5 -3.6,-6.5 C-2,-6.5 -0.8,-5.7 0,-4.6 C0.8,-5.7 2,-6.5 3.6,-6.5 C5.6,-6.5 7.3,-4.9 7.3,-2.2 C7.3,2.4 1.2,6.3 0,6.5Z" fill="#ff50b0" transform="translate(303.50,478.20) scale(1.0)"/>
<path d="M0,6.5 C-1.2,6.3 -7.3,2.4 -7.3,-2.2 C-7.3,-4.9 -5.6,-6.5 -3.6,-6.5 C-2,-6.5 -0.8,-5.7 0,-4.6 C0.8,-5.7 2,-6.5 3.6,-6.5 C5.6,-6.5 7.3,-4.9 7.3,-2.2 C7.3,2.4 1.2,6.3 0,6.5Z" fill="#ff50b0" transform="translate(348.63,478.20) scale(1.0)"/>
<path d="M0,6.5 C-1.2,6.3 -7.3,2.4 -7.3,-2.2 C-7.3,-4.9 -5.6,-6.5 -3.6,-6.5 C-2,-6.5 -0.8,-5.7 0,-4.6 C0.8,-5.7 2,-6.5 3.6,-6.5 C5.6,-6.5 7.3,-4.9 7.3,-2.2 C7.3,2.4 1.2,6.3 0,6.5Z" fill="#ff50b0" transform="translate(371.19,478.20) scale(1.0)"/>
<path d="M0,6.5 C-1.2,6.3 -7.3,2.4 -7.3,-2.2 C-7.3,-4.9 -5.6,-6.5 -3.6,-6.5 C-2,-6.5 -0.8,-5.7 0,-4.6 C0.8,-5.7 2,-6.5 3.6,-6.5 C5.6,-6.5 7.3,-4.9 7.3,-2.2 C7.3,2.4 1.2,6.3 0,6.5Z" fill="#ff50b0" transform="translate(416.32,478.20) scale(1.0)"/>
<path d="M0,6.5 C-1.2,6.3 -7.3,2.4 -7.3,-2.2 C-7.3,-4.9 -5.6,-6.5 -3.6,-6.5 C-2,-6.5 -0.8,-5.7 0,-4.6 C0.8,-5.7 2,-6.5 3.6,-6.5 C5.6,-6.5 7.3,-4.9 7.3,-2.2 C7.3,2.4 1.2,6.3 0,6.5Z" fill="#ff50b0" transform="translate(438.89,478.20) scale(1.0)"/>
<path d="M0,6.5 C-1.2,6.3 -7.3,2.4 -7.3,-2.2 C-7.3,-4.9 -5.6,-6.5 -3.6,-6.5 C-2,-6.5 -0.8,-5.7 0,-4.6 C0.8,-5.7 2,-6.5 3.6,-6.5 C5.6,-6.5 7.3,-4.9 7.3,-2.2 C7.3,2.4 1.2,6.3 0,6.5Z" fill="#ff50b0" transform="translate(506.58,478.20) scale(1.0)"/>
<path d="M0,6.5 C-1.2,6.3 -7.3,2.4 -7.3,-2.2 C-7.3,-4.9 -5.6,-6.5 -3.6,-6.5 C-2,-6.5 -0.8,-5.7 0,-4.6 C0.8,-5.7 2,-6.5 3.6,-6.5 C5.6,-6.5 7.3,-4.9 7.3,-2.2 C7.3,2.4 1.2,6.3 0,6.5Z" fill="#ff50b0" transform="translate(529.15,478.20) scale(1.0)"/>
<path d="M0,6.5 C-1.2,6.3 -7.3,2.4 -7.3,-2.2 C-7.3,-4.9 -5.6,-6.5 -3.6,-6.5 C-2,-6.5 -0.8,-5.7 0,-4.6 C0.8,-5.7 2,-6.5 3.6,-6.5 C5.6,-6.5 7.3,-4.9 7.3,-2.2 C7.3,2.4 1.2,6.3 0,6.5Z" fill="#ff50b0" transform="translate(551.71,478.20) scale(1.0)"/>
<circle cx="77.85" cy="502.60" r="8.0" fill="#c6c6c6"/>
<line x1="74.49" y1="505.96" x2="81.21" y2="499.24" stroke="#fff" stroke-width="2" stroke-linecap="round"/>
<circle cx="145.54" cy="502.60" r="8.0" fill="#c6c6c6"/>
<line x1="142.18" y1="505.96" x2="148.90" y2="499.24" stroke="#fff" stroke-width="2" stroke-linecap="round"/>
<circle cx="235.80" cy="502.60" r="8.0" fill="#c6c6c6"/>
<line x1="232.44" y1="505.96" x2="239.16" y2="499.24" stroke="#fff" stroke-width="2" stroke-linecap="round"/>
<circle cx="303.50" cy="502.60" r="8.0" fill="#c6c6c6"/>
<line x1="300.14" y1="505.96" x2="306.86" y2="499.24" stroke="#fff" stroke-width="2" stroke-linecap="round"/>
<circle cx="393.76" cy="502.60" r="8.0" fill="#c6c6c6"/>
<line x1="390.40" y1="505.96" x2="397.12" y2="499.24" stroke="#fff" stroke-width="2" stroke-linecap="round"/>
<circle cx="461.45" cy="502.60" r="8.0" fill="#c6c6c6"/>
<line x1="458.09" y1="505.96" x2="464.81" y2="499.24" stroke="#fff" stroke-width="2" stroke-linecap="round"/>
<circle cx="551.71" cy="502.60" r="8.0" fill="#c6c6c6"/>
<line x1="548.35" y1="505.96" x2="555.07" y2="499.24" stroke="#fff" stroke-width="2" stroke-linecap="round"/>
<rect x="567.23" y="444.70" width="4.2" height="15.8" rx="2.1" fill="#8abd14"/>
<rect x="576.73" y="444.70" width="4.2" height="15.8" rx="2.1" fill="#d2e7a2"/>
<rect x="590.09" y="444.70" width="4.2" height="15.8" rx="2.1" fill="#8abd14"/>
<rect x="599.59" y="444.70" width="4.2" height="15.8" rx="2.1" fill="#d2e7a2"/>
<rect x="612.26" y="444.70" width="4.2" height="15.8" rx="2.1" fill="#8abd14"/>
<rect x="621.76" y="444.70" width="4.2" height="15.8" rx="2.1" fill="#8abd14"/>
<text x="55.28" y="555.83" font-size="11.5" fill="#f0336a" font-weight="400" text-anchor="middle" textLength="11.6" lengthAdjust="spacingAndGlyphs" stroke="#f0336a" stroke-width="0.2">17</text>
<text x="77.85" y="555.83" font-size="11.5" fill="#5e5e5e" font-weight="400" text-anchor="middle" textLength="11.6" lengthAdjust="spacingAndGlyphs" stroke="#5e5e5e" stroke-width="0.2">18</text>
<text x="100.41" y="555.83" font-size="11.5" fill="#5e5e5e" font-weight="400" text-anchor="middle" textLength="11.6" lengthAdjust="spacingAndGlyphs" stroke="#5e5e5e" stroke-width="0.2">19</text>
<text x="122.98" y="555.83" font-size="11.5" fill="#5e5e5e" font-weight="400" text-anchor="middle" textLength="11.6" lengthAdjust="spacingAndGlyphs" stroke="#5e5e5e" stroke-width="0.2">20</text>
<text x="145.54" y="555.83" font-size="11.5" fill="#5e5e5e" font-weight="400" text-anchor="middle" textLength="11.6" lengthAdjust="spacingAndGlyphs" stroke="#5e5e5e" stroke-width="0.2">21</text>
<text x="168.11" y="555.83" font-size="11.5" fill="#5e5e5e" font-weight="400" text-anchor="middle" textLength="11.6" lengthAdjust="spacingAndGlyphs" stroke="#5e5e5e" stroke-width="0.2">22</text>
<text x="190.67" y="555.83" font-size="11.5" fill="#f0336a" font-weight="400" text-anchor="middle" textLength="11.6" lengthAdjust="spacingAndGlyphs" stroke="#f0336a" stroke-width="0.2">23</text>
<text x="213.24" y="555.83" font-size="11.5" fill="#f0336a" font-weight="400" text-anchor="middle" textLength="11.6" lengthAdjust="spacingAndGlyphs" stroke="#f0336a" stroke-width="0.2">24</text>
<text x="235.80" y="555.83" font-size="11.5" fill="#5e5e5e" font-weight="400" text-anchor="middle" textLength="11.6" lengthAdjust="spacingAndGlyphs" stroke="#5e5e5e" stroke-width="0.2">25</text>
<text x="258.37" y="555.83" font-size="11.5" fill="#5e5e5e" font-weight="400" text-anchor="middle" textLength="11.6" lengthAdjust="spacingAndGlyphs" stroke="#5e5e5e" stroke-width="0.2">26</text>
<text x="280.93" y="555.83" font-size="11.5" fill="#5e5e5e" font-weight="400" text-anchor="middle" textLength="11.6" lengthAdjust="spacingAndGlyphs" stroke="#5e5e5e" stroke-width="0.2">27</text>
<text x="303.50" y="555.83" font-size="11.5" fill="#5e5e5e" font-weight="400" text-anchor="middle" textLength="11.6" lengthAdjust="spacingAndGlyphs" stroke="#5e5e5e" stroke-width="0.2">28</text>
<text x="326.06" y="555.83" font-size="11.5" fill="#5e5e5e" font-weight="400" text-anchor="middle" textLength="11.6" lengthAdjust="spacingAndGlyphs" stroke="#5e5e5e" stroke-width="0.2">29</text>
<text x="348.63" y="555.83" font-size="11.5" fill="#f0336a" font-weight="400" text-anchor="middle" textLength="11.6" lengthAdjust="spacingAndGlyphs" stroke="#f0336a" stroke-width="0.2">30</text>
<text x="371.19" y="555.83" font-size="11.5" fill="#f0336a" font-weight="400" text-anchor="middle" textLength="11.6" lengthAdjust="spacingAndGlyphs" stroke="#f0336a" stroke-width="0.2">31</text>
<text x="393.76" y="555.83" font-size="11.5" fill="#5e5e5e" font-weight="400" text-anchor="middle" textLength="11.6" lengthAdjust="spacingAndGlyphs" stroke="#5e5e5e" stroke-width="0.2">01</text>
<text x="416.32" y="555.83" font-size="11.5" fill="#5e5e5e" font-weight="400" text-anchor="middle" textLength="11.6" lengthAdjust="spacingAndGlyphs" stroke="#5e5e5e" stroke-width="0.2">02</text>
<text x="438.89" y="555.83" font-size="11.5" fill="#5e5e5e" font-weight="400" text-anchor="middle" textLength="11.6" lengthAdjust="spacingAndGlyphs" stroke="#5e5e5e" stroke-width="0.2">03</text>
<text x="461.45" y="555.83" font-size="11.5" fill="#5e5e5e" font-weight="400" text-anchor="middle" textLength="11.6" lengthAdjust="spacingAndGlyphs" stroke="#5e5e5e" stroke-width="0.2">04</text>
<text x="484.02" y="555.83" font-size="11.5" fill="#5e5e5e" font-weight="400" text-anchor="middle" textLength="11.6" lengthAdjust="spacingAndGlyphs" stroke="#5e5e5e" stroke-width="0.2">05</text>
<text x="506.58" y="555.83" font-size="11.5" fill="#f0336a" font-weight="400" text-anchor="middle" textLength="11.6" lengthAdjust="spacingAndGlyphs" stroke="#f0336a" stroke-width="0.2">06</text>
<text x="529.15" y="555.83" font-size="11.5" fill="#f0336a" font-weight="400" text-anchor="middle" textLength="11.6" lengthAdjust="spacingAndGlyphs" stroke="#f0336a" stroke-width="0.2">07</text>
<text x="551.71" y="555.83" font-size="11.5" fill="#5e5e5e" font-weight="400" text-anchor="middle" textLength="11.6" lengthAdjust="spacingAndGlyphs" stroke="#5e5e5e" stroke-width="0.2">08</text>
<text x="574.28" y="555.83" font-size="11.5" fill="#5e5e5e" font-weight="400" text-anchor="middle" textLength="11.6" lengthAdjust="spacingAndGlyphs" stroke="#5e5e5e" stroke-width="0.2">09</text>
<text x="596.84" y="555.83" font-size="11.5" fill="#5e5e5e" font-weight="400" text-anchor="middle" textLength="11.6" lengthAdjust="spacingAndGlyphs" stroke="#5e5e5e" stroke-width="0.2">10</text>
<text x="618.41" y="554.77" font-size="13" fill="#4a4a4a" font-weight="400" text-anchor="middle" textLength="12.8" lengthAdjust="spacingAndGlyphs" stroke="#4a4a4a" stroke-width="0.3">11</text>
<text x="641.97" y="555.83" font-size="11.5" fill="#5e5e5e" font-weight="400" text-anchor="middle" textLength="11.6" lengthAdjust="spacingAndGlyphs" stroke="#5e5e5e" stroke-width="0.2">12</text>
<text x="664.54" y="555.83" font-size="11.5" fill="#f0336a" font-weight="400" text-anchor="middle" textLength="11.6" lengthAdjust="spacingAndGlyphs" stroke="#f0336a" stroke-width="0.2">13</text>
<text x="687.10" y="555.83" font-size="11.5" fill="#f0336a" font-weight="400" text-anchor="middle" textLength="11.6" lengthAdjust="spacingAndGlyphs" stroke="#f0336a" stroke-width="0.2">14</text>
<text x="709.67" y="555.83" font-size="11.5" fill="#5e5e5e" font-weight="400" text-anchor="middle" textLength="11.6" lengthAdjust="spacingAndGlyphs" stroke="#5e5e5e" stroke-width="0.2">15</text>
<text x="732.23" y="555.83" font-size="11.5" fill="#5e5e5e" font-weight="400" text-anchor="middle" textLength="11.6" lengthAdjust="spacingAndGlyphs" stroke="#5e5e5e" stroke-width="0.2">16</text>
<rect x="381.8" y="541.8" width="1.2" height="33.8" fill="#555"/>
<text x="44.70" y="573.92" font-size="12.5" fill="#7a7a7a" font-weight="400" text-anchor="start" textLength="49.9" lengthAdjust="spacingAndGlyphs">Декабрь</text>
<text x="388.00" y="573.92" font-size="12.5" fill="#7a7a7a" font-weight="400" text-anchor="start" textLength="42.3" lengthAdjust="spacingAndGlyphs">Январь</text>
<text x="35.50" y="592.59" font-size="12.6" fill="#333" font-weight="700" text-anchor="start" textLength="81.7" lengthAdjust="spacingAndGlyphs">Менструация</text>
<text x="218.70" y="592.59" font-size="12.6" fill="#333" font-weight="700" text-anchor="start" textLength="107.7" lengthAdjust="spacingAndGlyphs">Тест на овуляцию</text>
<text x="373.80" y="592.59" font-size="12.6" fill="#333" font-weight="700" text-anchor="start" textLength="133.6" lengthAdjust="spacingAndGlyphs">Тест на беременность</text>
<text x="557.50" y="592.59" font-size="12.6" fill="#333" font-weight="700" text-anchor="start" textLength="151.7" lengthAdjust="spacingAndGlyphs">Цервикальная жидкость</text>
<path d="M0,-10.5 C1.5,-7.5 6.2,-4 6.2,0 A6.2,6.2 0 0 1 -6.2,0 C-6.2,-4 -1.5,-7.5 0,-10.5Z" fill="#ff4651" transform="translate(44.10,611.40) scale(0.850,0.890)"/>
<text x="59.80" y="614.88" font-size="12" fill="#3f3f3f" font-weight="400" text-anchor="start" textLength="74.3" lengthAdjust="spacingAndGlyphs" stroke="#3f3f3f" stroke-width="0.35">Менструация</text>
<path d="M0,-10.5 C1.5,-7.5 6.2,-4 6.2,0 A6.2,6.2 0 0 1 -6.2,0 C-6.2,-4 -1.5,-7.5 0,-10.5Z" fill="#ff4651" transform="translate(44.15,637.10) scale(0.570,0.690)"/>
<text x="59.80" y="639.68" font-size="12" fill="#3f3f3f" font-weight="400" text-anchor="start" textLength="130.0" lengthAdjust="spacingAndGlyphs" stroke="#3f3f3f" stroke-width="0.35">Небольшие выделения</text>
<circle cx="226.3" cy="610.8" r="8.5" fill="#fcd74a"/>
<circle cx="226.3" cy="634.3" r="7.8" fill="none" stroke="#fcd74a" stroke-width="1.5"/>
<text x="242.10" y="614.88" font-size="12" fill="#3f3f3f" font-weight="400" text-anchor="start" textLength="91.7" lengthAdjust="spacingAndGlyphs" stroke="#3f3f3f" stroke-width="0.35">Положительный</text>
<text x="242.10" y="638.88" font-size="12" fill="#3f3f3f" font-weight="400" text-anchor="start" textLength="89.1" lengthAdjust="spacingAndGlyphs" stroke="#3f3f3f" stroke-width="0.35">Отрицательный</text>
<rect x="374.3" y="602" width="3.6" height="15" rx="1.8" fill="#8abd14"/><rect x="383.8" y="602" width="3.6" height="15" rx="1.8" fill="#8abd14"/>
<rect x="379.3" y="627" width="3.6" height="15.2" rx="1.8" fill="#8abd14"/>
<rect x="374.3" y="651.2" width="3.6" height="15" rx="1.8" fill="#8abd14"/><rect x="383.8" y="651.2" width="3.6" height="15" rx="1.8" fill="#d2e7a2"/>
<text x="396.30" y="614.88" font-size="12" fill="#3f3f3f" font-weight="400" text-anchor="start" textLength="91.4" lengthAdjust="spacingAndGlyphs" stroke="#3f3f3f" stroke-width="0.35">Положительный</text>
<text x="396.30" y="638.88" font-size="12" fill="#3f3f3f" font-weight="400" text-anchor="start" textLength="88.8" lengthAdjust="spacingAndGlyphs" stroke="#3f3f3f" stroke-width="0.35">Отрицательный</text>
<text x="396.30" y="662.88" font-size="12" fill="#3f3f3f" font-weight="400" text-anchor="start" textLength="124.0" lengthAdjust="spacingAndGlyphs" stroke="#3f3f3f" stroke-width="0.35">Слабоположительный</text>
<path d="M567.5,607.5 C568.6,609.2 572.3,611.6 572.3,615.4 A4.8,4.8 0 0 1 562.7,615.4 C562.7,611.6 566.4,609.2 567.5,607.5Z" fill="none" stroke="#8ccaf2" stroke-width="1.3"/>
<path d="M562.8,631.9 H572 V632.7 C570.6,633.5 568.9,635 568.6,637 V640.3 C568.9,642.3 570.6,643.6 572,644.3 V645.1 H562.8 V644.3 C564.2,643.6 565.9,642.3 566.2,640.3 V637 C565.9,635 564.2,633.5 562.8,632.7 Z" fill="#7cc3f0"/>
<path d="M561.6,655.8 C564.5,655 569.5,655.6 571.8,658.3 C574,661 573.3,665.8 570,668.2 C567,670.2 563,669.3 562.3,666.3 C561.8,664 563.3,662.3 565.8,661.6 C565,659.3 563.6,657 561.6,655.8Z" fill="#7cc3f0"/>
<path d="M567.4,676.1 C567.9,678.5 569.5,680.5 571.3,682.3 C573.8,684.8 573.2,689 570.6,690.6 C568.6,691.8 566.2,691.8 564.2,690.6 C561.6,689 561,684.8 563.5,682.3 C565.3,680.5 566.9,678.5 567.4,676.1Z" fill="#7cc3f0"/>
<ellipse cx="567.4" cy="708.1" rx="5.6" ry="7.3" fill="#7cc3f0"/>
<text x="582.30" y="617.28" font-size="12" fill="#3f3f3f" font-weight="400" text-anchor="start" textLength="27.7" lengthAdjust="spacingAndGlyphs" stroke="#3f3f3f" stroke-width="0.35">Сухо</text>
<text x="582.30" y="641.68" font-size="12" fill="#3f3f3f" font-weight="400" text-anchor="start" textLength="47.2" lengthAdjust="spacingAndGlyphs" stroke="#3f3f3f" stroke-width="0.35">Клейкая</text>
<text x="582.30" y="665.48" font-size="12" fill="#3f3f3f" font-weight="400" text-anchor="start" textLength="90.4" lengthAdjust="spacingAndGlyphs" stroke="#3f3f3f" stroke-width="0.35">Кремообразная</text>
<text x="582.30" y="689.68" font-size="12" fill="#3f3f3f" font-weight="400" text-anchor="start" textLength="66.0" lengthAdjust="spacingAndGlyphs" stroke="#3f3f3f" stroke-width="0.35">Водянистая</text>
<text x="582.30" y="713.28" font-size="12" fill="#3f3f3f" font-weight="400" text-anchor="start" textLength="81.5" lengthAdjust="spacingAndGlyphs" stroke="#3f3f3f" stroke-width="0.35">Яичный белок</text>
<path d="M0,6.5 C-1.2,6.3 -7.3,2.4 -7.3,-2.2 C-7.3,-4.9 -5.6,-6.5 -3.6,-6.5 C-2,-6.5 -0.8,-5.7 0,-4.6 C0.8,-5.7 2,-6.5 3.6,-6.5 C5.6,-6.5 7.3,-4.9 7.3,-2.2 C7.3,2.4 1.2,6.3 0,6.5Z" fill="#ff50b0" transform="translate(42.75,709.3) scale(1.1,1.04)"/>
<text x="59.10" y="713.28" font-size="12" fill="#3f3f3f" font-weight="400" text-anchor="start" textLength="71.7" lengthAdjust="spacingAndGlyphs" stroke="#3f3f3f" stroke-width="0.35">Половой акт</text>
<circle cx="163.10" cy="709.50" r="8.5" fill="#c6c6c6"/>
<line x1="159.53" y1="713.07" x2="166.67" y2="705.93" stroke="#fff" stroke-width="2" stroke-linecap="round"/>
<text x="177.70" y="713.28" font-size="12" fill="#3f3f3f" font-weight="400" text-anchor="start" textLength="92.1" lengthAdjust="spacingAndGlyphs" stroke="#3f3f3f" stroke-width="0.35">Прием лекарств</text>
<path d="M313.39,711.45 A8.40,8.40 0 1 1 303.35,701.41 A7.39,7.39 0 0 0 313.39,711.45 Z" fill="#f39219"/>
<text x="320.20" y="713.28" font-size="12" fill="#3f3f3f" font-weight="400" text-anchor="start" textLength="108.5" lengthAdjust="spacingAndGlyphs" stroke="#3f3f3f" stroke-width="0.35">Лунный календарь</text>
</svg>
</body></html>
